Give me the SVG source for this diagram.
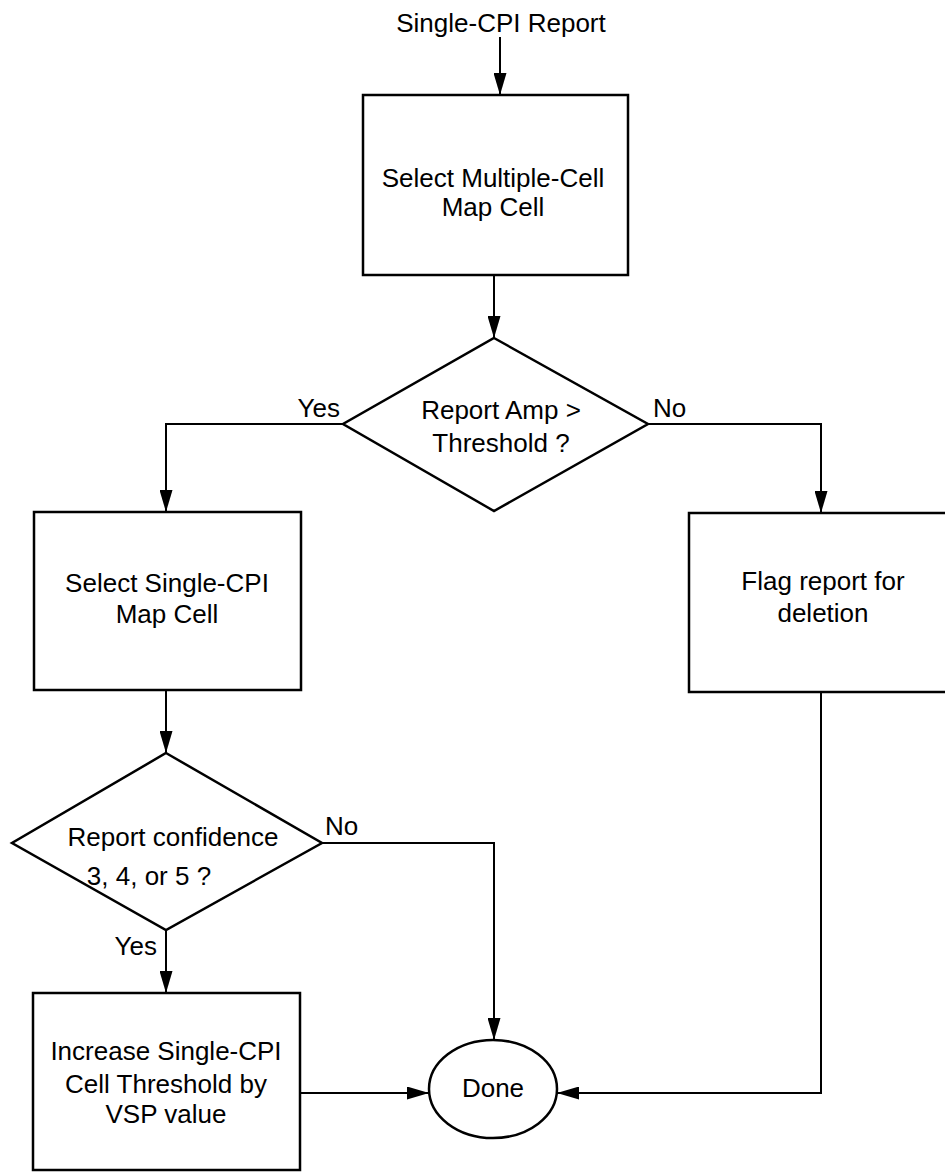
<svg xmlns="http://www.w3.org/2000/svg" width="945" height="1172" viewBox="0 0 945 1172">
<style>
.shape{fill:#fff;stroke:#000;stroke-width:2.5}
.conn{fill:none;stroke:#000;stroke-width:2}
text{font-family:"Liberation Sans",Arial,sans-serif;font-size:26px;fill:#000}
.c{text-anchor:middle}
</style>
<defs>
<marker id="arr" markerUnits="userSpaceOnUse" markerWidth="22" markerHeight="13" refX="22" refY="6.5" orient="auto">
<path d="M0,0 L22,6.5 L0,13 z" fill="#000"/>
</marker>
</defs>
<rect width="945" height="1172" fill="#fff"/>
<g id="connectors">
<path class="conn" d="M500,37 V95" marker-end="url(#arr)"/>
<path class="conn" d="M494,275 V338" marker-end="url(#arr)"/>
<path class="conn" d="M343,424 H166 V512" marker-end="url(#arr)"/>
<path class="conn" d="M648,424 H821 V513" marker-end="url(#arr)"/>
<path class="conn" d="M166,690 V753" marker-end="url(#arr)"/>
<path class="conn" d="M166,930 V993" marker-end="url(#arr)"/>
<path class="conn" d="M322,843 H494 V1040" marker-end="url(#arr)"/>
<path class="conn" d="M300,1093 H429" marker-end="url(#arr)"/>
<path class="conn" d="M821,692 V1093 H557" marker-end="url(#arr)"/>
<text x="340" y="417" text-anchor="end">Yes</text>
<text x="653" y="417">No</text>
<text x="325" y="835">No</text>
<text x="157" y="955" text-anchor="end">Yes</text>
</g>
<g id="start">
<text class="c" x="501" y="32">Single-CPI Report</text>
</g>
<g id="select-multiple">
<rect class="shape" x="363" y="95" width="265" height="180"/>
<text class="c" x="493" y="187">Select Multiple-Cell</text>
<text class="c" x="493" y="216">Map Cell</text>
</g>
<g id="decision-amp">
<polygon class="shape" points="494,338 648,424 494,511 343,424"/>
<text class="c" x="501" y="419">Report Amp &gt;</text>
<text class="c" x="501" y="452">Threshold ?</text>
</g>
<g id="select-single">
<rect class="shape" x="34" y="512" width="267" height="178"/>
<text class="c" x="167" y="592">Select Single-CPI</text>
<text class="c" x="167" y="623">Map Cell</text>
</g>
<g id="flag-deletion">
<rect class="shape" x="689" y="513" width="266" height="179"/>
<text class="c" x="823" y="590">Flag report for</text>
<text class="c" x="823" y="622">deletion</text>
</g>
<g id="decision-confidence">
<polygon class="shape" points="166,753 322,843 166,930 12,843"/>
<text class="c" x="173" y="846">Report confidence</text>
<text class="c" x="149" y="885">3, 4, or 5 ?</text>
</g>
<g id="increase-threshold">
<rect class="shape" x="33" y="993" width="267" height="177"/>
<text class="c" x="166" y="1060">Increase Single-CPI</text>
<text class="c" x="166" y="1093">Cell Threshold by</text>
<text class="c" x="166" y="1123">VSP value</text>
</g>
<g id="done">
<ellipse class="shape" cx="493" cy="1089" rx="64" ry="49"/>
<text class="c" x="493" y="1097">Done</text>
</g>
</svg>
